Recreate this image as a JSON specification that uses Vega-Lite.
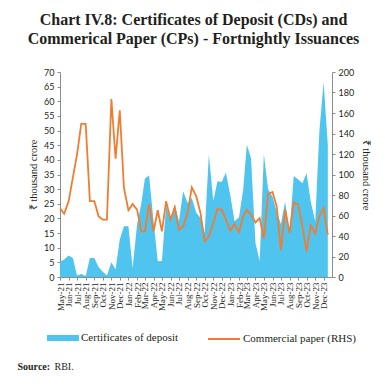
{
  "$schema": "https://vega.github.io/schema/vega-lite/v6.json",
  "width": 272,
  "height": 205,
  "autosize": {"type": "none"},
  "padding": {"left": 60, "top": 72, "right": 53, "bottom": 113},
  "background": "white",
  "title": {
    "text": ["Chart IV.8: Certificates of Deposit (CDs) and", "Commerical Paper (CPs) - Fortnightly Issuances"],
    "font": "Liberation Serif", "fontSize": 16, "fontWeight": "bold", "color": "#231f20",
    "anchor": "middle", "frame": "group", "offset": 21, "lineHeight": 19, "dx": -2.5
  },
  "config": {
    "view": {"stroke": null},
    "axis": {"grid": false, "domainColor": "#8c8c8c", "tickColor": "#8c8c8c", "tickSize": 3, "labelColor": "#231f20", "titleColor": "#231f20"}
  },
  "data": {"values": [
    {"date": "2021-05-01", "cd": 5.2, "cp": 66.9},
    {"date": "2021-05-16", "cd": 6, "cp": 61.7},
    {"date": "2021-06-01", "cd": 7.3, "cp": 74},
    {"date": "2021-06-16", "cd": 6.5, "cp": 96.9},
    {"date": "2021-07-01", "cd": 0.5, "cp": 119.4},
    {"date": "2021-07-16", "cd": 1, "cp": 149.4},
    {"date": "2021-08-01", "cd": 0.3, "cp": 149.4},
    {"date": "2021-08-16", "cd": 6.5, "cp": 74},
    {"date": "2021-09-01", "cd": 6.5, "cp": 74},
    {"date": "2021-09-16", "cd": 3.4, "cp": 59.4},
    {"date": "2021-10-01", "cd": 1.8, "cp": 56},
    {"date": "2021-10-16", "cd": 0.5, "cp": 56},
    {"date": "2021-11-01", "cd": 5, "cp": 173.7},
    {"date": "2021-11-16", "cd": 2.6, "cp": 115.4},
    {"date": "2021-12-01", "cd": 12.8, "cp": 162.6},
    {"date": "2021-12-16", "cd": 17.3, "cp": 86.9},
    {"date": "2022-01-01", "cd": 17.3, "cp": 65.1},
    {"date": "2022-01-16", "cd": 3.1, "cp": 71.1},
    {"date": "2022-02-01", "cd": 17.9, "cp": 65.7},
    {"date": "2022-02-16", "cd": 25, "cp": 44.6},
    {"date": "2022-03-01", "cd": 33.6, "cp": 44.6},
    {"date": "2022-03-16", "cd": 34.7, "cp": 71.1},
    {"date": "2022-04-01", "cd": 19, "cp": 44.6},
    {"date": "2022-04-16", "cd": 5.4, "cp": 65.1},
    {"date": "2022-05-01", "cd": 5.5, "cp": 44.6},
    {"date": "2022-05-16", "cd": 24.4, "cp": 74},
    {"date": "2022-06-01", "cd": 19.6, "cp": 56},
    {"date": "2022-06-16", "cd": 24.7, "cp": 68},
    {"date": "2022-07-01", "cd": 19, "cp": 46.3},
    {"date": "2022-07-16", "cd": 29.3, "cp": 49.4},
    {"date": "2022-08-01", "cd": 25.3, "cp": 62.3},
    {"date": "2022-08-16", "cd": 27, "cp": 87.4},
    {"date": "2022-09-01", "cd": 21.9, "cp": 78.6},
    {"date": "2022-09-16", "cd": 20.2, "cp": 62.4},
    {"date": "2022-10-01", "cd": 15, "cp": 34.7},
    {"date": "2022-10-16", "cd": 41.8, "cp": 39.5},
    {"date": "2022-11-01", "cd": 26, "cp": 52.6},
    {"date": "2022-11-16", "cd": 32.7, "cp": 66.3},
    {"date": "2022-12-01", "cd": 32.4, "cp": 65.8},
    {"date": "2022-12-16", "cd": 35.7, "cp": 55.8},
    {"date": "2023-01-01", "cd": 27.8, "cp": 45.1},
    {"date": "2023-01-16", "cd": 19, "cp": 51.6},
    {"date": "2023-02-01", "cd": 20.4, "cp": 43.8},
    {"date": "2023-02-16", "cd": 29.8, "cp": 59.1},
    {"date": "2023-03-01", "cd": 45.2, "cp": 65.6},
    {"date": "2023-03-16", "cd": 40.6, "cp": 60.7},
    {"date": "2023-04-01", "cd": 11.6, "cp": 53.2},
    {"date": "2023-04-16", "cd": 5.4, "cp": 57.5},
    {"date": "2023-05-01", "cd": 42, "cp": 37.3},
    {"date": "2023-05-16", "cd": 30, "cp": 80.9},
    {"date": "2023-06-01", "cd": 27.5, "cp": 82.9},
    {"date": "2023-06-16", "cd": 22.4, "cp": 68.8},
    {"date": "2023-07-01", "cd": 18, "cp": 25.9},
    {"date": "2023-07-16", "cd": 25.7, "cp": 65.6},
    {"date": "2023-08-01", "cd": 15.4, "cp": 42.9},
    {"date": "2023-08-16", "cd": 34.5, "cp": 72.7},
    {"date": "2023-09-01", "cd": 33.3, "cp": 70.5},
    {"date": "2023-09-16", "cd": 32, "cp": 49.3},
    {"date": "2023-10-01", "cd": 35.4, "cp": 24.9},
    {"date": "2023-10-16", "cd": 25.7, "cp": 50.3},
    {"date": "2023-11-01", "cd": 19, "cp": 42.2},
    {"date": "2023-11-16", "cd": 50, "cp": 59.7},
    {"date": "2023-12-01", "cd": 66.5, "cp": 67.2},
    {"date": "2023-12-16", "cd": 45, "cp": 41.2}
  ]},
  "layer": [
    {
      "mark": {"type": "area", "interpolate": "linear"},
      "encoding": {
        "x": {
          "field": "date", "type": "temporal",
          "scale": {"type": "utc", "domain": ["2021-05-01", "2023-12-31"]},
          "axis": {
            "orient": "bottom",
            "labelExpr": "utcFormat(datum.value, '%b-%y')",
            "tickCount": {"interval": "month", "step": 1},
            "labelAngle": 270, "labelFont": "Liberation Serif", "labelFontSize": 9, "labelPadding": 2,
            "labelOverlap": false, "labelFlush": false,
            "title": "Source:", "titleFont": "Liberation Serif", "titleFontSize": 10, "titleFontWeight": "bold",
            "titleX": -43, "titleY": 89, "titleAnchor": "start", "titleAlign": "left", "titleBaseline": "middle"
          }
        },
        "y": {
          "field": "cd", "type": "quantitative",
          "scale": {"domain": [0, 70], "nice": false},
          "axis": {
            "orient": "left", "values": [0,5,10,15,20,25,30,35,40,45,50,55,60,65,70],
            "labelFont": "Lato", "labelFontSize": 9, "labelPadding": 3,
            "title": "₹ thousand crore", "titleFont": "Liberation Serif", "titleFontSize": 10.5, "titleFontWeight": "normal", "titlePadding": 5
          }
        },
        "fill": {
          "datum": "Certificates of deposit",
          "scale": {"range": ["#4fc4ee"]},
          "legend": {
            "orient": "none", "legendX": -13, "legendY": 250, "title": null, "padding": 0,
            "symbolType": "M-1,-0.1875H1V0.1875H-1Z", "symbolSize": 1024, "symbolStrokeWidth": 0,
            "labelFont": "Liberation Serif", "labelFontSize": 11, "labelOffset": 2, "labelColor": "#231f20"
          }
        }
      }
    },
    {
      "mark": {"type": "line", "strokeWidth": 1.8, "interpolate": "linear"},
      "encoding": {
        "x": {
          "field": "date", "type": "temporal",
          "axis": {
            "orient": "bottom", "labels": false, "ticks": false, "domain": false,
            "title": "RBI.", "titleFont": "Liberation Serif", "titleFontSize": 10, "titleFontWeight": "normal",
            "titleX": -6, "titleY": 89, "titleAnchor": "start", "titleAlign": "left", "titleBaseline": "middle"
          }
        },
        "y": {
          "field": "cp", "type": "quantitative",
          "scale": {"domain": [0, 200], "nice": false},
          "axis": {
            "orient": "right", "values": [0,20,40,60,80,100,120,140,160,180,200],
            "labelFont": "Lato", "labelFontSize": 9, "labelPadding": 3,
            "title": "₹ thousand crore", "titleFont": "Liberation Serif", "titleFontSize": 10.5, "titleFontWeight": "normal", "titlePadding": 7
          }
        },
        "stroke": {
          "datum": "Commercial paper (RHS)",
          "scale": {"range": ["#f07d32"]},
          "legend": {
            "orient": "none", "legendX": 147, "legendY": 250, "title": null, "padding": 0,
            "symbolType": "stroke", "symbolSize": 1024, "symbolStrokeWidth": 2,
            "labelFont": "Liberation Serif", "labelFontSize": 11, "labelOffset": 2, "labelColor": "#231f20"
          }
        }
      }
    }
  ],
  "resolve": {"scale": {"y": "independent"}, "axis": {"x": "independent", "y": "independent"}}
}
